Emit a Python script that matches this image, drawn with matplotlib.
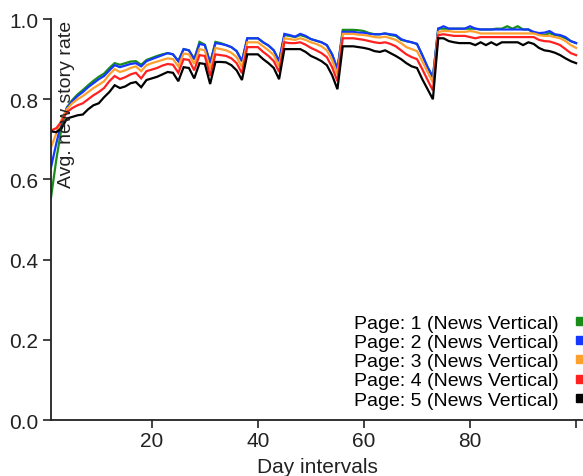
import numpy as np
import matplotlib
matplotlib.use("Agg")
import matplotlib.pyplot as plt
from matplotlib.lines import Line2D

plt.rcParams['font.family'] = ['Liberation Sans', 'DejaVu Sans']

# day intervals 1..100
days = list(range(1, 101))

page5 = [0.720, 0.718, 0.728, 0.752, 0.756, 0.760, 0.762, 0.775, 0.785, 0.790,
         0.805, 0.818, 0.835, 0.828, 0.832, 0.840, 0.843, 0.830, 0.848, 0.852,
         0.856, 0.862, 0.868, 0.866, 0.845, 0.880, 0.878, 0.852, 0.890, 0.888,
         0.838, 0.893, 0.893, 0.892, 0.885, 0.872, 0.848, 0.912, 0.912, 0.912,
         0.900, 0.890, 0.878, 0.850, 0.925, 0.925, 0.925, 0.925, 0.918, 0.908,
         0.902, 0.895, 0.885, 0.860, 0.825, 0.932, 0.932, 0.932, 0.930, 0.928,
         0.925, 0.920, 0.918, 0.922, 0.915, 0.908, 0.900, 0.890, 0.882, 0.878,
         0.850, 0.825, 0.800, 0.952, 0.952, 0.945, 0.942, 0.940, 0.940, 0.940,
         0.935, 0.942, 0.935, 0.942, 0.935, 0.942, 0.942, 0.942, 0.942, 0.935,
         0.942, 0.938, 0.928, 0.922, 0.920, 0.916, 0.910, 0.902, 0.895, 0.890]

page4 = [0.722, 0.728, 0.745, 0.768, 0.778, 0.785, 0.790, 0.800, 0.810, 0.818,
         0.828, 0.845, 0.858, 0.850, 0.855, 0.862, 0.866, 0.852, 0.870, 0.874,
         0.878, 0.884, 0.888, 0.886, 0.866, 0.900, 0.898, 0.872, 0.910, 0.908,
         0.858, 0.912, 0.910, 0.908, 0.902, 0.890, 0.865, 0.930, 0.930, 0.930,
         0.918, 0.908, 0.895, 0.868, 0.942, 0.940, 0.940, 0.942, 0.936, 0.928,
         0.922, 0.915, 0.905, 0.880, 0.845, 0.952, 0.952, 0.952, 0.950, 0.948,
         0.945, 0.942, 0.940, 0.942, 0.938, 0.932, 0.922, 0.912, 0.905, 0.900,
         0.875, 0.848, 0.822, 0.960, 0.962, 0.960, 0.958, 0.958, 0.958, 0.955,
         0.952, 0.955, 0.955, 0.955, 0.955, 0.955, 0.955, 0.955, 0.955, 0.955,
         0.955, 0.955, 0.948, 0.945, 0.944, 0.940, 0.935, 0.925, 0.915, 0.910]

page3 = [0.680, 0.715, 0.750, 0.775, 0.790, 0.800, 0.808, 0.818, 0.828, 0.836,
         0.845, 0.862, 0.875, 0.868, 0.872, 0.878, 0.882, 0.870, 0.885, 0.890,
         0.894, 0.898, 0.902, 0.900, 0.882, 0.914, 0.912, 0.888, 0.925, 0.922,
         0.875, 0.928, 0.925, 0.922, 0.916, 0.905, 0.880, 0.942, 0.942, 0.942,
         0.932, 0.922, 0.910, 0.882, 0.952, 0.950, 0.948, 0.952, 0.948, 0.942,
         0.938, 0.932, 0.922, 0.898, 0.862, 0.963, 0.963, 0.963, 0.961, 0.960,
         0.958, 0.955, 0.954, 0.956, 0.952, 0.948, 0.940, 0.930, 0.925, 0.920,
         0.895, 0.868, 0.842, 0.968, 0.970, 0.970, 0.968, 0.968, 0.968, 0.970,
         0.968, 0.964, 0.964, 0.964, 0.964, 0.964, 0.964, 0.964, 0.964, 0.964,
         0.964, 0.964, 0.960, 0.958, 0.958, 0.955, 0.952, 0.945, 0.935, 0.928]

page2 = [0.630, 0.690, 0.745, 0.778, 0.795, 0.808, 0.818, 0.830, 0.840, 0.850,
         0.858, 0.872, 0.885, 0.880, 0.884, 0.888, 0.890, 0.882, 0.895, 0.900,
         0.905, 0.910, 0.915, 0.912, 0.895, 0.925, 0.922, 0.900, 0.938, 0.935,
         0.890, 0.940, 0.938, 0.935, 0.930, 0.920, 0.895, 0.952, 0.952, 0.952,
         0.942, 0.934, 0.922, 0.895, 0.963, 0.960, 0.956, 0.963, 0.958, 0.950,
         0.946, 0.942, 0.935, 0.912, 0.875, 0.968, 0.968, 0.968, 0.966, 0.966,
         0.963, 0.962, 0.962, 0.964, 0.962, 0.960, 0.950, 0.945, 0.942, 0.938,
         0.910, 0.880, 0.855, 0.976, 0.982, 0.976, 0.976, 0.976, 0.976, 0.982,
         0.976, 0.974, 0.974, 0.974, 0.974, 0.974, 0.974, 0.974, 0.974, 0.974,
         0.974, 0.968, 0.965, 0.966, 0.970, 0.962, 0.960, 0.955, 0.945, 0.940]

page1 = [0.555, 0.650, 0.730, 0.780, 0.798, 0.812, 0.823, 0.835, 0.846, 0.856,
         0.864, 0.878, 0.890, 0.886, 0.890, 0.894, 0.895, 0.886, 0.898, 0.903,
         0.908, 0.912, 0.915, 0.912, 0.895, 0.925, 0.922, 0.900, 0.943, 0.936,
         0.890, 0.943, 0.940, 0.935, 0.930, 0.920, 0.895, 0.952, 0.952, 0.952,
         0.942, 0.934, 0.922, 0.895, 0.960, 0.958, 0.955, 0.960, 0.956, 0.950,
         0.946, 0.942, 0.935, 0.912, 0.875, 0.973, 0.973, 0.973, 0.972, 0.970,
         0.965, 0.962, 0.962, 0.964, 0.960, 0.958, 0.948, 0.945, 0.942, 0.938,
         0.910, 0.880, 0.855, 0.976, 0.976, 0.976, 0.976, 0.976, 0.976, 0.976,
         0.976, 0.974, 0.974, 0.974, 0.976, 0.976, 0.982, 0.976, 0.982, 0.974,
         0.974, 0.965, 0.962, 0.960, 0.965, 0.960, 0.958, 0.952, 0.945, 0.940]

labels = ["Page: 1 (News Vertical)", "Page: 2 (News Vertical)",
          "Page: 3 (News Vertical)", "Page: 4 (News Vertical)",
          "Page: 5 (News Vertical)"]
colors = ["#1a8c1a", "#1438ff", "#ff9f2e", "#ff2020", "#000000"]
series = [page1, page2, page3, page4, page5]

fig = plt.figure(figsize=(5.83, 4.77), dpi=100)
ax = fig.add_axes([0.0875, 0.117, 0.9125, 0.841])

for vals, c in zip(series, colors):
    ax.plot(days, vals, color=c, lw=1.6, solid_joinstyle='miter')

ax.set_xlim(1, 101.3)
ax.set_ylim(0, 1.0)
ax.set_xticks([20, 40, 60, 80, 100])
ax.set_xticklabels(["20", "40", "60", "80", ""])
ax.set_yticks([0, 0.2, 0.4, 0.6, 0.8, 1.0])
ax.set_yticklabels(["0.0", "0.2", "0.4", "0.6", "0.8", "1.0"])
ax.tick_params(direction='out', length=6, width=1.2, labelsize=15,
               colors='#222222')
ax.tick_params(axis='y', pad=3)
ax.tick_params(axis='x', pad=2)
for s in ['top', 'right']:
    ax.spines[s].set_visible(False)
for s in ['left', 'bottom']:
    ax.spines[s].set_linewidth(1.3)
    ax.spines[s].set_color('#222222')

ax.set_xlabel("Day intervals", fontsize=15, labelpad=5, color='#222222')
ax.text(0.030, 0.997, "Avg. new story rate", transform=ax.transAxes,
        rotation=90, ha='center', va='top', fontsize=14, color='#222222')

handles = [Line2D([], [], ls='none', marker='s', markersize=6, color=c)
           for c in colors]
ax.legend(handles, labels, loc='lower right', bbox_to_anchor=(1.03, 0.0),
          frameon=False, markerfirst=False, fontsize=14, handlelength=0.8,
          handletextpad=0.65, labelspacing=0.08, borderaxespad=0.2)

fig.savefig("out.png", dpi=100)
